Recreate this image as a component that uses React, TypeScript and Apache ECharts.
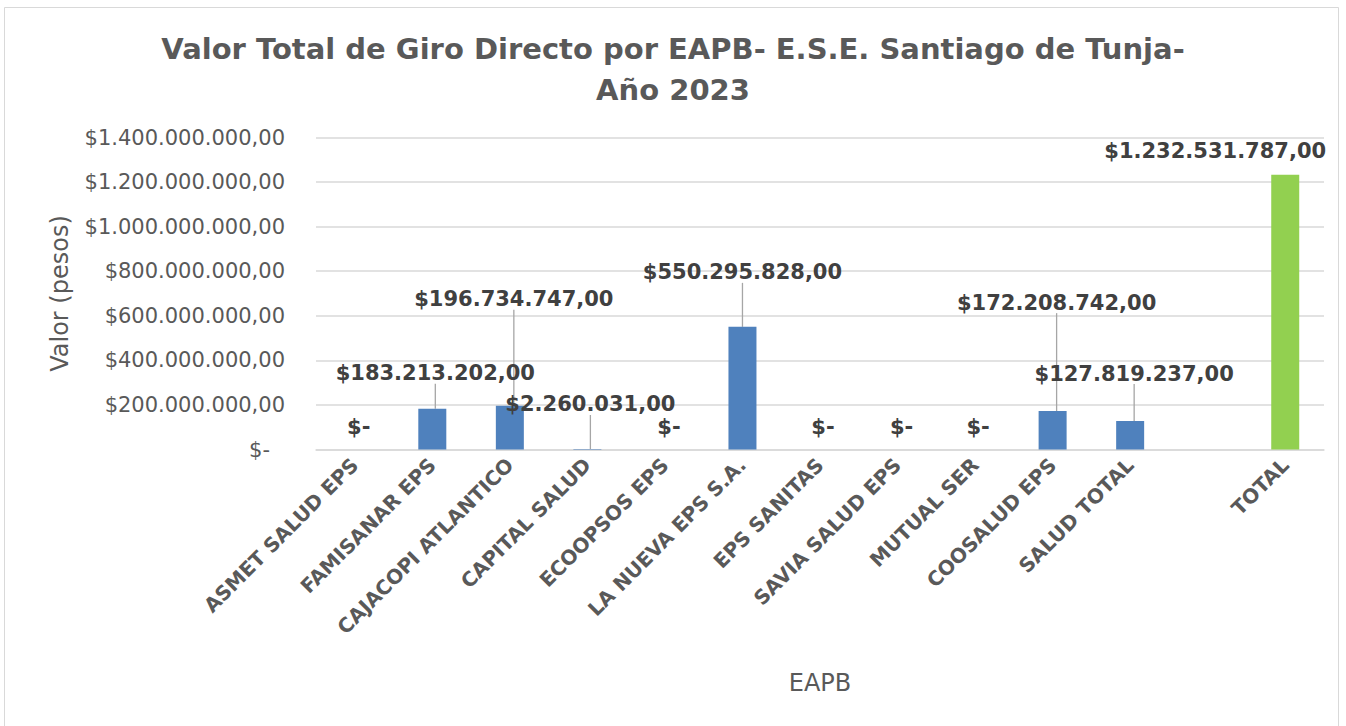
import React, { useEffect, useRef } from "react";
import * as echarts from "echarts";

const categories = [
  "ASMET SALUD EPS",
  "FAMISANAR EPS",
  "CAJACOPI ATLANTICO",
  "CAPITAL SALUD",
  "ECOOPSOS EPS",
  "LA NUEVA EPS S.A.",
  "EPS SANITAS",
  "SAVIA SALUD EPS",
  "MUTUAL SER",
  "COOSALUD EPS",
  "SALUD TOTAL",
  "",
  "TOTAL",
];

const values: (number | null)[] = [
  0, 183213202, 196734747, 2260031, 0, 550295828, 0, 0, 0, 172208742, 127819237, null, 1232531787,
];

const yTicks = { min: 0, max: 1400000000, interval: 200000000 };

// label offsets (dx, dy) from default "top" placement, imitating Excel's moved labels
const labelOffsets: [number, number][] = [
  [4, -7], [3, -20], [4, -91], [3, -29], [4, -7], [0, -39], [3, -7], [4, -7], [3, -7], [4, -93], [4, -32], [0, 0], [-70, -8],
];

const BLUE = "#4f81bd";
const GREEN = "#92d050";

function fmt(v: number): string {
  if (!v) return "$-";
  return "$" + Math.round(v).toString().replace(/\B(?=(\d{3})+(?!\d))/g, ".") + ",00";
}

export default function App() {
  const ref = useRef<HTMLDivElement>(null);
  useEffect(() => {
    if (!ref.current) return;
    const chart = echarts.init(ref.current, undefined, { renderer: "svg" });
    const data = values.map((v, i) => {
      if (v === null) return "-";
      const isTotal = categories[i] === "TOTAL";
      return {
        value: v,
        itemStyle: { color: isTotal ? GREEN : BLUE },
        labelLine: { show: !(v === 0 || isTotal) },
      };
    });
    chart.setOption({
      animation: false,
      backgroundColor: "#ffffff",
      title: {
        text: "Valor Total de Giro Directo por EAPB- E.S.E. Santiago de Tunja-\nAño 2023",
        left: "center",
        top: 23,
        textStyle: {
          fontFamily: "DejaVu Sans",
          fontSize: 29,
          fontWeight: "bold",
          color: "#595959",
          lineHeight: 41,
        },
      },
      graphic: [
        {
          type: "rect",
          shape: { x: 4.5, y: 7.5, width: 1334, height: 740 },
          style: { fill: "none", stroke: "#d9d9d9", lineWidth: 1 },
          silent: true,
        },
      ],
      grid: { left: 316, right: 22, top: 137.5, bottom: 276.5, containLabel: false },
      xAxis: {
        type: "category",
        data: categories,
        name: "EAPB",
        nameLocation: "middle",
        nameGap: 221,
        nameTextStyle: { fontFamily: "DejaVu Sans", fontSize: 24, color: "#595959" },
        axisLine: { show: true, lineStyle: { color: "#d9d9d9", width: 1.5 } },
        axisTick: { show: false },
        axisLabel: {
          interval: 0,
          rotate: 45,
          margin: 12,
          fontFamily: "DejaVu Sans",
          fontWeight: "bold",
          fontSize: 20,
          color: "#595959",
        },
      },
      yAxis: {
        type: "value",
        min: yTicks.min,
        max: yTicks.max,
        interval: yTicks.interval,
        name: "Valor (pesos)",
        nameLocation: "middle",
        nameGap: 244,
        nameTextStyle: { fontFamily: "DejaVu Sans", fontSize: 24, color: "#595959" },
        axisLine: { show: false },
        axisTick: { show: false },
        splitLine: { lineStyle: { color: "#d9d9d9", width: 1.5 } },
        axisLabel: {
          margin: 31,
          fontFamily: "DejaVu Sans",
          fontSize: 21,
          color: "#595959",
          formatter: (v: number) => (v === 0 ? "{z|$-}" : fmt(v)),
          rich: {
            z: {
              fontFamily: "DejaVu Sans",
              fontSize: 21,
              color: "#595959",
              padding: [0, 15, 0, 0],
            },
          },
        },
      },
      series: [
        {
          type: "bar",
          data,
          barWidth: 28,
          label: {
            show: true,
            position: "top",
            distance: 5,
            fontFamily: "DejaVu Sans",
            fontWeight: "bold",
            fontSize: 21,
            color: "#404040",
            formatter: (p: any) => fmt(p.value),
          },
          labelLine: { show: true, lineStyle: { color: "#a6a6a6", width: 1.3 } },
          labelLayout: (p: any) => {
            const o = labelOffsets[p.dataIndex] || [0, 0];
            return { dx: o[0], dy: o[1] };
          },
        },
      ],
    });
    return () => chart.dispose();
  }, []);
  return (
    <div
      ref={ref}
      style={{ position: "fixed", left: 0, top: 0, width: 1346, height: 726, background: "#fff" }}
    />
  );
}
